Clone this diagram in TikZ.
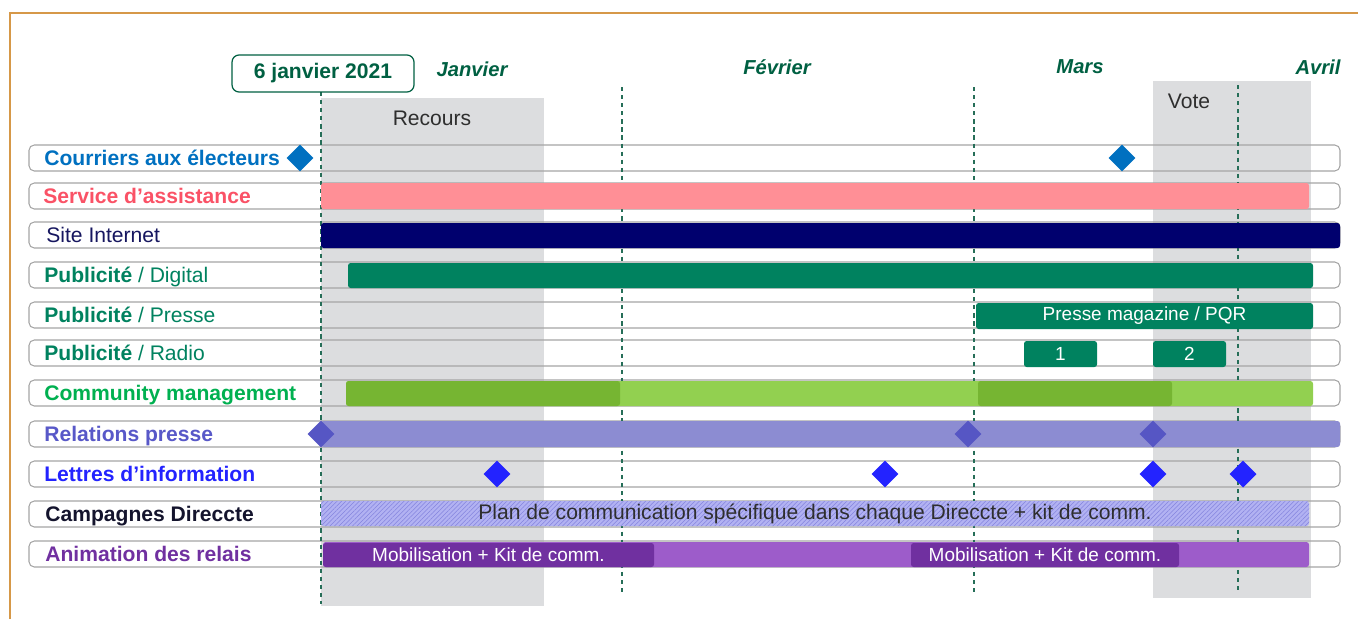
\documentclass[tikz,border=0pt]{standalone}
\usepackage{fontspec}
\setmainfont{Liberation Sans}
\usetikzlibrary{shapes.geometric}
\usetikzlibrary{patterns.meta}
\definecolor{cadre}{RGB}{214,152,72}
\definecolor{vertmois}{RGB}{0,96,66}
\definecolor{repere}{RGB}{38,110,88}
\definecolor{periode}{RGB}{220,221,223}
\definecolor{contour}{RGB}{165,165,165}
\definecolor{courriers}{RGB}{0,112,192}
\definecolor{assistance}{RGB}{255,143,150}
\definecolor{assistance-texte}{RGB}{250,82,102}
\definecolor{internet}{RGB}{0,0,110}
\definecolor{internet-texte}{RGB}{22,22,95}
\definecolor{pub}{RGB}{0,130,95}
\definecolor{community}{RGB}{146,208,80}
\definecolor{community-fonce}{RGB}{118,181,50}
\definecolor{community-texte}{RGB}{0,176,80}
\definecolor{presse}{RGB}{140,140,210}
\definecolor{presse-point}{RGB}{86,86,196}
\definecolor{presse-texte}{RGB}{88,88,200}
\definecolor{lettres}{RGB}{35,35,255}
\definecolor{direccte}{RGB}{178,178,242}
\definecolor{direccte-trait}{RGB}{132,132,222}
\definecolor{direccte-texte}{RGB}{20,20,45}
\definecolor{relais}{RGB}{157,92,202}
\definecolor{relais-fonce}{RGB}{112,48,160}
\colorlet{texte-gris}{black!82}

\begin{document}
\begin{tikzpicture}[x=0.02cm, y=-0.02cm,
    every node/.style={font=\fontsize{12}{14}\selectfont, inner sep=0pt},
    ligne/.style={draw=contour, line width=0.6pt, rounded corners=3pt},
    barre/.style={rounded corners=1.5pt},
    jalon/.style={diamond, inner sep=0pt, minimum width=15.5pt, minimum height=15.5pt},
    tirets/.style={repere, line width=0.8pt, dash pattern=on 2.4pt off 2.2pt},
    titre/.style={anchor=base west, font=\fontsize{12}{14}\selectfont\bfseries},
    mois/.style={vertmois, font=\fontsize{11.5}{14}\selectfont\bfseries\itshape},
    dans/.style={white, font=\fontsize{10.8}{13}\selectfont}]

    \useasboundingbox (0,0) rectangle (1358,619);
    \draw[cadre, line width=0.9pt] (10,619) -- (10,13) -- (1358,13);

    % Recours / Vote
    \fill[periode] (321,98) rectangle (544,606);
    \fill[periode] (1153,81) rectangle (1311,598);
    \node[texte-gris] (recours) at (432,118) {Recours};
    \node[texte-gris] (vote) at (1189,101) {Vote};

    \foreach \y in {158,196,235,275,315,353,393,434,474,514,554}{
        \draw[ligne] (29,\y-13) rectangle (1340,\y+13);
    }

    \draw[tirets] (321,92) -- (321,604);
    \foreach \x/\a in {622/87, 974/87, 1238/85}{
        \draw[tirets] (\x,\a) -- (\x,593);
    }

    \node[draw=vertmois, line width=0.7pt, rounded corners=4pt, fill=white,
          minimum width=3.64cm, minimum height=0.74cm,
          font=\fontsize{12}{14}\selectfont\bfseries, text=vertmois] (date) at (323,73.5) {6 janvier 2021};
    \node[mois] (janvier) at (472,69) {Janvier};
    \node[mois] (fevrier) at (777,67) {Février};
    \node[mois] (mars) at (1080,67) {Mars};
    \node[mois] (avril) at (1318,67) {Avril};

    % barres
    \fill[assistance, barre] (321,183) rectangle (1309,209);
    \fill[internet, barre] (321,223) rectangle (1340,248);
    \fill[pub, barre] (348,263) rectangle (1313,288);
    \fill[pub, barre] (976,303) rectangle (1313,329);
    \node[dans] (pqr) at (1144.5,316) {Presse magazine / PQR};
    \fill[pub, barre] (1024,341) rectangle (1097,367);
    \node[dans] (radio1) at (1060.5,354) {1};
    \fill[pub, barre] (1153,341) rectangle (1226,367);
    \node[dans] (radio2) at (1189.5,354) {2};
    \fill[community, barre] (346,381) rectangle (1313,406);
    \fill[community-fonce, barre] (346,381) rectangle (620,406);
    \fill[community-fonce, barre] (978,381) rectangle (1172,406);
    \fill[presse, barre] (321,421) rectangle (1340,447);
    \path[barre, fill=direccte, postaction={pattern={Lines[angle=45, distance=1.8pt, line width=0.3pt]}, pattern color=direccte-trait}] (321,501) rectangle (1309,526);
    \node[texte-gris, font=\fontsize{12}{14}\selectfont] (plan) at (815,514) {Plan de communication spécifique dans chaque Direccte + kit de comm.};
    \fill[relais, barre] (323,542) rectangle (1309,567);
    \fill[relais-fonce, barre] (323,543) rectangle (654,567);
    \fill[relais-fonce, barre] (911,543) rectangle (1179,567);
    \node[dans] (kit1) at (488.5,555) {Mobilisation + Kit de comm.};
    \node[dans] (kit2) at (1045,555) {Mobilisation + Kit de comm.};

    % jalons
    \foreach \x/\n in {300/c1, 1122/c2}
        \node[jalon, fill=courriers] (\n) at (\x,158) {};
    \foreach \x/\n in {321/r1, 968/r2, 1153/r3}
        \node[jalon, fill=presse-point] (\n) at (\x,434) {};
    \foreach \x/\n in {497/l1, 885/l2, 1153/l3, 1243/l4}
        \node[jalon, fill=lettres] (\n) at (\x,474) {};

    % libelles
    \node[titre, courriers] (t-courriers) at (44,165.5) {Courriers aux électeurs};
    \node[titre, assistance-texte] (t-assistance) at (43,203.5) {Service d’assistance};
    \node[titre, internet-texte, font=\fontsize{12}{14}\selectfont] (t-internet) at (46,242.5) {Site Internet};
    \node[titre, pub, font=\fontsize{12}{14}\selectfont] (t-digital) at (44,282.5) {\textbf{Publicité} / Digital};
    \node[titre, pub, font=\fontsize{12}{14}\selectfont] (t-presse) at (44,322.5) {\textbf{Publicité} / Presse};
    \node[titre, pub, font=\fontsize{12}{14}\selectfont] (t-radio) at (44,360.5) {\textbf{Publicité} / Radio};
    \node[titre, community-texte] (t-community) at (44,400.5) {Community management};
    \node[titre, presse-texte] (t-relations) at (44,441.5) {Relations presse};
    \node[titre, lettres] (t-lettres) at (44,481.5) {Lettres d’information};
    \node[titre, direccte-texte] (t-direccte) at (45,521.5) {Campagnes Direccte};
    \node[titre, relais-fonce] (t-relais) at (45,561.5) {Animation des relais};

\end{tikzpicture}
\end{document}
